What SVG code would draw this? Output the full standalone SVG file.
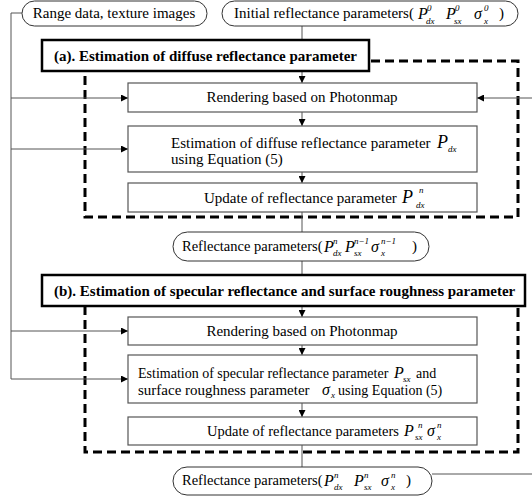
<svg xmlns="http://www.w3.org/2000/svg" width="532" height="496" viewBox="0 0 532 496">
<defs>
<marker id="arr" viewBox="0 0 8 8" refX="8" refY="4" markerWidth="7" markerHeight="7" markerUnits="userSpaceOnUse" orient="auto">
<path d="M0,0 L8,4 L0,8 z" fill="#000"/>
</marker>
<style>
.t{font-size:15px}
.t14{font-size:14px}
.tp{font-size:14.5px}
.h{font-size:15px;font-weight:bold}
.m{font-style:italic;font-size:16px}
.mb{font-style:italic;font-size:18px}
.s{font-style:italic;font-size:9px}
.pill{fill:#fff;stroke:#333;stroke-width:1}
.box{fill:#fff;stroke:#555;stroke-width:1.2}
.hdr{fill:#fff;stroke:#000;stroke-width:2.5}
.dash{fill:none;stroke:#000;stroke-width:3;stroke-dasharray:9 5}
.ln{fill:none;stroke:#555;stroke-width:1}
.lna{fill:none;stroke:#555;stroke-width:1;marker-end:url(#arr)}
</style>
</defs>
<rect width="532" height="496" fill="#fff"/>

<g id="dashed">
<path class="dash" d="M371,61 H518 V217 H85 V72"/>
<path class="dash" d="M518,308 V452 H85 V307"/>
</g>

<g id="connectors">
<path class="ln" d="M22,13 H11 V379"/>
<path class="lna" d="M11,98 H128"/>
<path class="lna" d="M11,149 H128"/>
<path class="lna" d="M11,331 H128"/>
<path class="lna" d="M11,379 H128"/>
<path class="ln" d="M302,26 V40"/>
<path class="lna" d="M302,72 V83"/>
<path class="lna" d="M302,112 V126"/>
<path class="lna" d="M302,172 V183"/>
<path class="ln" d="M302,212 V232"/>
<path class="ln" d="M302,261 V275"/>
<path class="lna" d="M302,307 V317"/>
<path class="lna" d="M302,345 V355"/>
<path class="lna" d="M302,403 V417"/>
<path class="ln" d="M302,445 V467"/>
<path class="lna" d="M432,474 H545 V98 H477"/>
</g>

<g font-family="Liberation Serif" fill="#000">
<g id="range">
<rect class="pill" x="22" y="1" width="185" height="25" rx="12.5"/>
<text class="t" x="114" y="18" text-anchor="middle">Range data, texture images</text>
</g>

<g id="initial">
<rect class="pill" x="222" y="1" width="296" height="25" rx="12.5"/>
<text class="t" x="234" y="18">Initial reflectance parameters(</text>
<text class="m" x="418" y="19">P</text>
<text class="s" x="427" y="11">0</text>
<text class="s" x="426" y="24">dx</text>
<text class="m" x="446" y="19">P</text>
<text class="s" x="455" y="11">0</text>
<text class="s" x="454" y="24">sx</text>
<text class="m" x="474" y="19">σ</text>
<text class="s" x="484" y="11">0</text>
<text class="s" x="484" y="24">x</text>
<text class="t" x="499" y="18">)</text>
</g>

<g id="headerA">
<rect class="hdr" x="42" y="40" width="327" height="31"/>
<text class="h" x="54" y="61">(a). Estimation of diffuse reflectance parameter</text>
</g>

<g id="renderA">
<rect class="box" x="128" y="83" width="349" height="29"/>
<text class="t" x="302" y="102" text-anchor="middle">Rendering based on Photonmap</text>
</g>

<g id="estA">
<rect class="box" x="128" y="126" width="349" height="46"/>
<text class="t" x="171" y="148">Estimation of diffuse reflectance parameter</text>
<text class="mb" x="437" y="148">P</text>
<text class="s" x="448" y="152">dx</text>
<text class="t" x="171" y="164">using Equation (5)</text>
</g>

<g id="updA">
<rect class="box" x="128" y="183" width="349" height="29"/>
<text class="t" x="204" y="203">Update of reflectance parameter</text>
<text class="mb" x="402" y="203">P</text>
<text class="s" x="419" y="193">n</text>
<text class="s" x="416" y="208">dx</text>
</g>

<g id="paramsN1">
<rect class="pill" x="173" y="232" width="256" height="29" rx="14.5"/>
<text class="tp" x="182" y="251">Reflectance parameters(</text>
<text class="m" x="324" y="252">P</text>
<text class="s" x="333" y="244">n</text>
<text class="s" x="333" y="256">dx</text>
<text class="m" x="345" y="252">P</text>
<text class="s" x="354" y="244">n−1</text>
<text class="s" x="354" y="256">sx</text>
<text class="m" x="371" y="252">σ</text>
<text class="s" x="381" y="244">n−1</text>
<text class="s" x="381" y="256">x</text>
<text class="t" x="412" y="251">)</text>
</g>

<g id="headerB">
<rect class="hdr" x="42" y="275" width="483" height="31"/>
<text class="h" x="54" y="296">(b). Estimation of specular reflectance and surface roughness parameter</text>
</g>

<g id="renderB">
<rect class="box" x="128" y="317" width="349" height="28"/>
<text class="t" x="302" y="336" text-anchor="middle">Rendering based on Photonmap</text>
</g>

<g id="estB">
<rect class="box" x="128" y="355" width="349" height="48"/>
<text class="t14" x="138" y="378">Estimation of specular reflectance parameter</text>
<text class="m" x="394" y="378">P</text>
<text class="s" x="403" y="382">sx</text>
<text class="t14" x="416" y="378">and</text>
<text class="t" x="138" y="395">surface roughness parameter</text>
<text class="m" x="322" y="395">σ</text>
<text class="s" x="331" y="398">x</text>
<text class="t14" x="338" y="395">using Equation (5)</text>
</g>

<g id="updB">
<rect class="box" x="128" y="417" width="349" height="28"/>
<text class="tp" x="207" y="436">Update of reflectance parameters</text>
<text class="m" x="404" y="436">P</text>
<text class="s" x="418" y="428">n</text>
<text class="s" x="415" y="440">sx</text>
<text class="m" x="427" y="436">σ</text>
<text class="s" x="437" y="428">n</text>
<text class="s" x="437" y="440">x</text>
</g>

<g id="paramsN">
<rect class="pill" x="173" y="467" width="259" height="28" rx="14"/>
<text class="tp" x="182" y="485">Reflectance parameters(</text>
<text class="m" x="324" y="486">P</text>
<text class="s" x="334" y="478">n</text>
<text class="s" x="334" y="490">dx</text>
<text class="m" x="354" y="486">P</text>
<text class="s" x="364" y="478">n</text>
<text class="s" x="364" y="490">sx</text>
<text class="m" x="381" y="486">σ</text>
<text class="s" x="391" y="478">n</text>
<text class="s" x="391" y="490">x</text>
<text class="t" x="406" y="485">)</text>
</g>
</g>
</svg>
